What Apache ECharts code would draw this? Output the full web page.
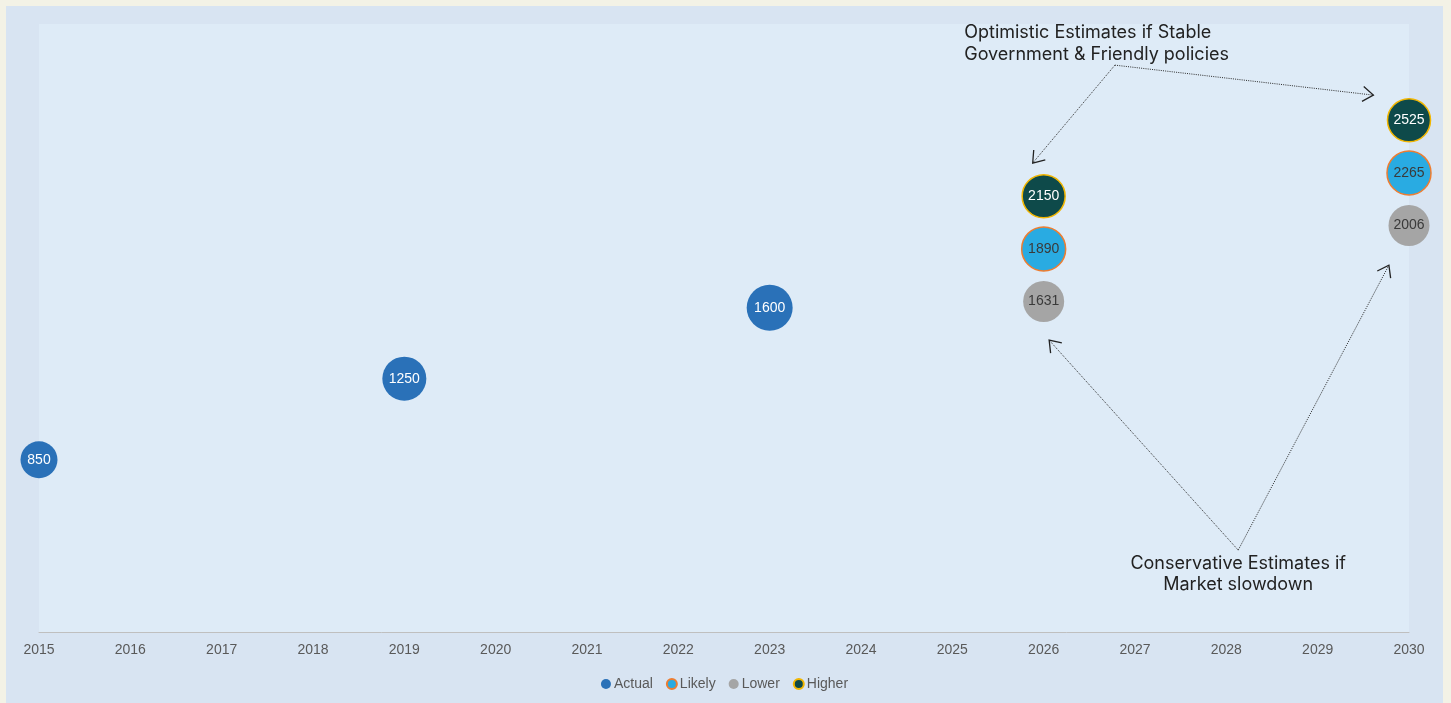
<!DOCTYPE html>
<html>
<head>
<meta charset="utf-8">
<script src="https://cdn.jsdelivr.net/npm/echarts@6/dist/echarts.min.js"></script>
<style>
  html, body { margin: 0; padding: 0; background: #f3f2e6; width: 1451px; height: 703px; overflow: hidden; }
  #chart { position: absolute; left: 6px; top: 6px; width: 1437px; height: 697px; background: #d8e4f2; }
</style>
</head>
<body>
<div id="chart"></div>
<script>
// Year ticks along the horizontal axis
const years = [2015, 2016, 2017, 2018, 2019, 2020, 2021, 2022, 2023, 2024, 2025, 2026, 2027, 2028, 2029, 2030];

// Series values: [year, value]
const actual = [[2015, 850], [2019, 1250], [2023, 1600]];
const likely = [[2026, 1890], [2030, 2265]];
const lower  = [[2026, 1631], [2030, 2006]];
const higher = [[2026, 2150], [2030, 2525]];

// Bubble diameters per point
const actualSizes = [37, 44, 46];
const likelySizes = [44, 44];
const lowerSizes  = [41, 41];
const higherSizes = [43, 43];

// Annotation callouts in data units: caption anchor, pivot point and arrow tips
const optimisticNote = {
  lines: ['Optimistic Estimates if Stable', 'Government & Friendly policies'],
  textAt: [2025.13, 3010],
  pivot: [2026.78, 2797],
  tips: [[2025.88, 2314], [2029.61, 2649]]
};
const conservativeNote = {
  lines: ['Conservative Estimates if', 'Market slowdown'],
  textAt: [2028.13, 393],
  pivot: [2028.13, 404],
  tips: [[2026.06, 1440], [2029.78, 1810]]
};

const chart = echarts.init(document.getElementById('chart'), null, { renderer: 'canvas' });

function withSizes(points, sizes) {
  return points.map((p, i) => ({ value: p, symbolSize: sizes[i] }));
}

const labelBase = { show: true, position: 'inside', fontSize: 14, fontFamily: 'Liberation Sans, Arial, sans-serif' };

chart.setOption({
  backgroundColor: 'transparent',
  animation: false,
  textStyle: { fontFamily: 'Liberation Sans, Arial, sans-serif' },
  grid: {
    left: 33, right: 34, top: 18, bottom: 71,
    show: true, backgroundColor: '#deebf7', borderWidth: 0
  },
  xAxis: {
    type: 'value',
    min: years[0], max: years[years.length - 1], interval: 1,
    axisLine: { show: true, lineStyle: { color: '#bfbfbf', width: 1 } },
    axisTick: { show: false },
    splitLine: { show: false },
    axisLabel: { color: '#595959', fontSize: 14, margin: 11, formatter: v => String(v) }
  },
  yAxis: {
    type: 'value', min: 0, max: 3000,
    show: false, splitLine: { show: false }
  },
  legend: {
    bottom: 7, left: 'center',
    itemWidth: 10, itemHeight: 10, itemGap: 13,
    icon: 'circle',
    textStyle: { color: '#595959', fontSize: 14, padding: [0, 0, 0, -2] },
    data: ['Actual', 'Likely', 'Lower', 'Higher']
  },
  series: [
    {
      name: 'Actual', type: 'scatter', data: withSizes(actual, actualSizes),
      itemStyle: { color: '#2a71b8', opacity: 1 },
      label: Object.assign({}, labelBase, { color: '#ffffff', formatter: p => p.value[1] })
    },
    {
      name: 'Likely', type: 'scatter', data: withSizes(likely, likelySizes),
      itemStyle: { color: '#29abe2', borderColor: '#ed7d31', borderWidth: 1.5, opacity: 1 },
      label: Object.assign({}, labelBase, { color: '#3a3a3a', formatter: p => p.value[1] })
    },
    {
      name: 'Lower', type: 'scatter', data: withSizes(lower, lowerSizes),
      itemStyle: { color: '#a5a5a5', opacity: 1 },
      label: Object.assign({}, labelBase, { color: '#3a3a3a', formatter: p => p.value[1] })
    },
    {
      name: 'Higher', type: 'scatter', data: withSizes(higher, higherSizes),
      itemStyle: { color: '#0e4a4a', borderColor: '#f2b600', borderWidth: 1.5, opacity: 1 },
      label: Object.assign({}, labelBase, { color: '#ffffff', formatter: p => p.value[1] })
    }
  ]
});

// Callout arrows and captions, placed through the chart's own coordinate system
function px(pt) { return chart.convertToPixel({ gridIndex: 0 }, pt); }

function arrowElements(note, textAlign) {
  const els = [];
  const p = px(note.pivot);
  note.tips.forEach(tipData => {
    const t = px(tipData);
    els.push({
      type: 'polyline', silent: true,
      shape: { points: [p, t] },
      style: { stroke: '#2a2a2a', lineWidth: 1, lineDash: [1, 1.2], fill: null }
    });
    const dx = t[0] - p[0], dy = t[1] - p[1];
    const len = Math.sqrt(dx * dx + dy * dy);
    const ux = dx / len, uy = dy / len;
    const head = 13, spread = 0.62;
    const cos = Math.cos(spread), sin = Math.sin(spread);
    const a = [t[0] - head * (ux * cos - uy * sin), t[1] - head * (uy * cos + ux * sin)];
    const b = [t[0] - head * (ux * cos + uy * sin), t[1] - head * (uy * cos - ux * sin)];
    els.push({
      type: 'polyline', silent: true,
      shape: { points: [a, t, b] },
      style: { stroke: '#222222', lineWidth: 1.3, fill: null }
    });
  });
  const tp = px(note.textAt);
  els.push({
    type: 'text', silent: true,
    x: tp[0], y: tp[1],
    style: {
      text: note.lines.join('\n'),
      font: '18px Inter, "Noto Sans", sans-serif',
      fill: '#222222',
      align: textAlign,
      verticalAlign: 'top',
      lineHeight: 21.5
    }
  });
  return els;
}

chart.setOption({
  graphic: { elements: arrowElements(optimisticNote, 'left').concat(arrowElements(conservativeNote, 'center')) }
});
</script>
</body>
</html>
